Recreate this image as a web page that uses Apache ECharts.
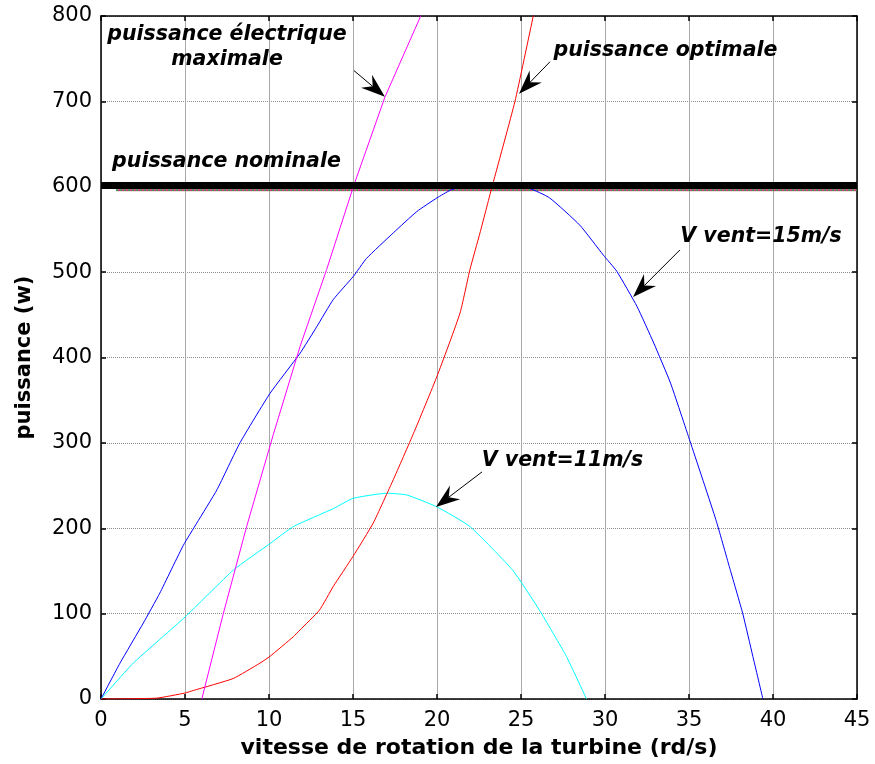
<!DOCTYPE html>
<html>
<head>
<meta charset="utf-8">
<script src="https://cdn.jsdelivr.net/npm/echarts@6/dist/echarts.min.js"></script>
<style>
  html, body { margin: 0; padding: 0; background: #fff; }
  #chart { width: 875px; height: 764px; }
</style>
</head>
<body>
<div id="chart"></div>
<script>
// Turbine power curves: power (W) against rotor speed (rd/s)

// Wind speed 15 m/s
const speedV15 = [0, 1.13, 2.52, 3.5, 4.9, 5.7, 6.9, 8.27, 10.06, 11.85, 12.84, 13.83, 15.02, 15.8, 17.4, 18.8, 20, 20.8, 21.5, 23.5, 25.5, 26.7, 28.5, 29.9, 30.7, 31.9, 32.9, 33.9, 35.06, 36.6, 37.4, 38.2, 38.8, 39.4];
const powerV15 = [0, 42, 89, 124, 180, 206, 245, 300, 358, 405, 436, 468, 495, 516, 546, 571, 587, 596, 600, 602, 598, 587, 555, 520, 501, 460, 417, 370, 302, 210, 155, 100, 50, 0];

// Wind speed 11 m/s
const speedV11 = [0, 1.92, 5, 7.88, 10.06, 11.45, 13.83, 15, 17, 18.2, 20, 21.96, 24.5, 26.1, 27.7, 28.9];
const powerV11 = [0, 42, 96, 151, 182, 202, 223, 235, 241, 239, 225, 202, 151, 104, 50, 0];

// Optimal power curve
const speedOpt = [0, 3.3, 5, 5.5, 7.87, 9.46, 10.06, 11.45, 11.85, 13, 13.83, 15, 16.2, 17.4, 18.6, 20, 21.37, 21.96, 22.56, 23.25, 24.64, 25.73, 26];
const powerOpt = [0, 1, 7, 10, 24, 42, 50, 73, 81, 104, 132, 167, 206, 257, 311, 378, 452, 503, 546, 598, 700, 800, 825];

// Maximum electrical power
const speedElec = [6, 7.28, 8.67, 10.26, 11.85, 13.43, 15.02, 16.9, 19.03, 19.3];
const powerElec = [0, 100, 202, 310, 413, 503, 600, 705, 800, 815];

// Nominal power level
const nominalPower = 600;
const nominalSpan = [0, 45];

const pairs = (xs, ys) => xs.map((x, i) => [x, ys[i]]);

// Text callouts, anchored in data coordinates
const labels = [
  { text: 'puissance électrique\nmaximale', at: [7.5, 763] },
  { text: 'puissance nominale', at: [7.47, 629] },
  { text: 'puissance optimale', at: [33.6, 759] },
  { text: 'V vent=15m/s', at: [39.29, 541] },
  { text: 'V vent=11m/s', at: [27.47, 279] }
];
const arrows = [
  { from: [15.06, 736], to: [16.9, 705.5] },
  { from: [26.73, 746.5], to: [24.88, 709] },
  { from: [34.46, 526], to: [31.67, 471] },
  { from: [22.68, 266], to: [19.94, 225] }
];

const FONT = '"DejaVu Sans", Verdana, sans-serif';
const chart = echarts.init(document.getElementById('chart'), null, { renderer: 'canvas' });

const lineSeries = (data, color, extra) => Object.assign({
  type: 'line',
  data: data,
  showSymbol: false,
  symbol: 'none',
  smooth: 0.15,
  clip: true,
  lineStyle: { color: color, width: 1 },
  itemStyle: { color: color },
  animation: false,
  z: 3
}, extra || {});

const boxAxis = {
  axisLine: { show: true, onZero: false, lineStyle: { color: '#000', width: 1.5 } },
  axisTick: { show: true, inside: true, length: 5, lineStyle: { color: '#000', width: 1.5 } }
};

chart.setOption({
  animation: false,
  backgroundColor: '#fff',
  grid: { left: 101, right: 18, top: 16, bottom: 65, containLabel: false, outerBoundsMode: 'none' },
  xAxis: [
    Object.assign({
      type: 'value', min: 0, max: 45, interval: 5, position: 'bottom',
      name: 'vitesse de rotation de la turbine (rd/s)',
      nameLocation: 'middle', nameGap: 38,
      nameTextStyle: { color: '#000', fontFamily: FONT, fontWeight: 'bold', fontSize: 22 },
      axisLabel: { color: '#000', fontFamily: FONT, fontSize: 21, margin: 11 },
      splitLine: { show: true, lineStyle: { color: '#a8a8a8', width: 1, type: 'solid' } }
    }, boxAxis),
    Object.assign({
      type: 'value', min: 0, max: 45, interval: 5, position: 'top',
      axisLabel: { show: false }, splitLine: { show: false }
    }, boxAxis)
  ],
  yAxis: [
    Object.assign({
      type: 'value', min: 0, max: 800, interval: 100, position: 'left',
      name: 'puissance (w)',
      nameLocation: 'middle', nameGap: 66, nameRotate: 90,
      nameTextStyle: { color: '#000', fontFamily: FONT, fontWeight: 'bold', fontSize: 21 },
      axisLabel: { color: '#000', fontFamily: FONT, fontSize: 21, margin: 9 },
      splitLine: { show: true, lineStyle: { color: '#8c8c8c', width: 1, type: [1, 1] } }
    }, boxAxis),
    Object.assign({
      type: 'value', min: 0, max: 800, interval: 100, position: 'right',
      axisLabel: { show: false }, splitLine: { show: false }
    }, boxAxis)
  ],
  series: [
    // nominal power: thick band with the dotted traces lying just under it
    lineSeries(pairs([nominalSpan[0] + 0.9, nominalSpan[1]], [nominalPower - 4, nominalPower - 4]), '#3c8a3c',
      { smooth: false, lineStyle: { color: '#3c8a3c', width: 2, type: [2, 2] }, z: 2 }),
    lineSeries(pairs([nominalSpan[0] + 0.9, nominalSpan[1]], [nominalPower - 4, nominalPower - 4]), '#c03070',
      { smooth: false, lineStyle: { color: '#c03070', width: 2, type: [2, 2], dashOffset: 2 }, z: 2 }),
    lineSeries(pairs(speedV15, powerV15), '#0000ff'),
    lineSeries(pairs(speedV11, powerV11), '#00ffff'),
    lineSeries(pairs(speedOpt, powerOpt), '#ff0000'),
    lineSeries(pairs(speedElec, powerElec), '#ff00ff', { smooth: false }),
    lineSeries(pairs(nominalSpan, [nominalPower + 1.5, nominalPower + 1.5]), '#000',
      { smooth: false, lineStyle: { color: '#000', width: 7 }, z: 4 })
  ]
});

// Callout texts and arrows, placed through the axes' own scales
function drawCallouts() {
  const toPx = p => chart.convertToPixel({ gridIndex: 0 }, p);
  const g = [];
  labels.forEach(l => {
    const [x, y] = toPx(l.at);
    g.push({
      type: 'text', x: x, y: y, z: 10,
      style: {
        text: l.text, align: 'center', verticalAlign: 'middle', fill: '#000',
        font: 'italic bold 20.5px ' + FONT, lineHeight: 25
      }
    });
  });
  arrows.forEach(a => {
    const [x0, y0] = toPx(a.from);
    const [x1, y1] = toPx(a.to);
    const len = Math.hypot(x1 - x0, y1 - y0);
    const ux = (x1 - x0) / len, uy = (y1 - y0) / len;
    const nx = -uy, ny = ux;
    const L = 24, W = 8.5, notch = 8;
    g.push({
      type: 'line', z: 10,
      shape: { x1: x0, y1: y0, x2: x1 - ux * (L - notch), y2: y1 - uy * (L - notch) },
      style: { stroke: '#000', lineWidth: 1 }
    });
    g.push({
      type: 'polygon', z: 10,
      shape: { points: [
        [x1, y1],
        [x1 - ux * L + nx * W, y1 - uy * L + ny * W],
        [x1 - ux * (L - notch), y1 - uy * (L - notch)],
        [x1 - ux * L - nx * W, y1 - uy * L - ny * W]
      ] },
      style: { fill: '#000' }
    });
  });
  chart.setOption({ graphic: g });
}
drawCallouts();
</script>
</body>
</html>
